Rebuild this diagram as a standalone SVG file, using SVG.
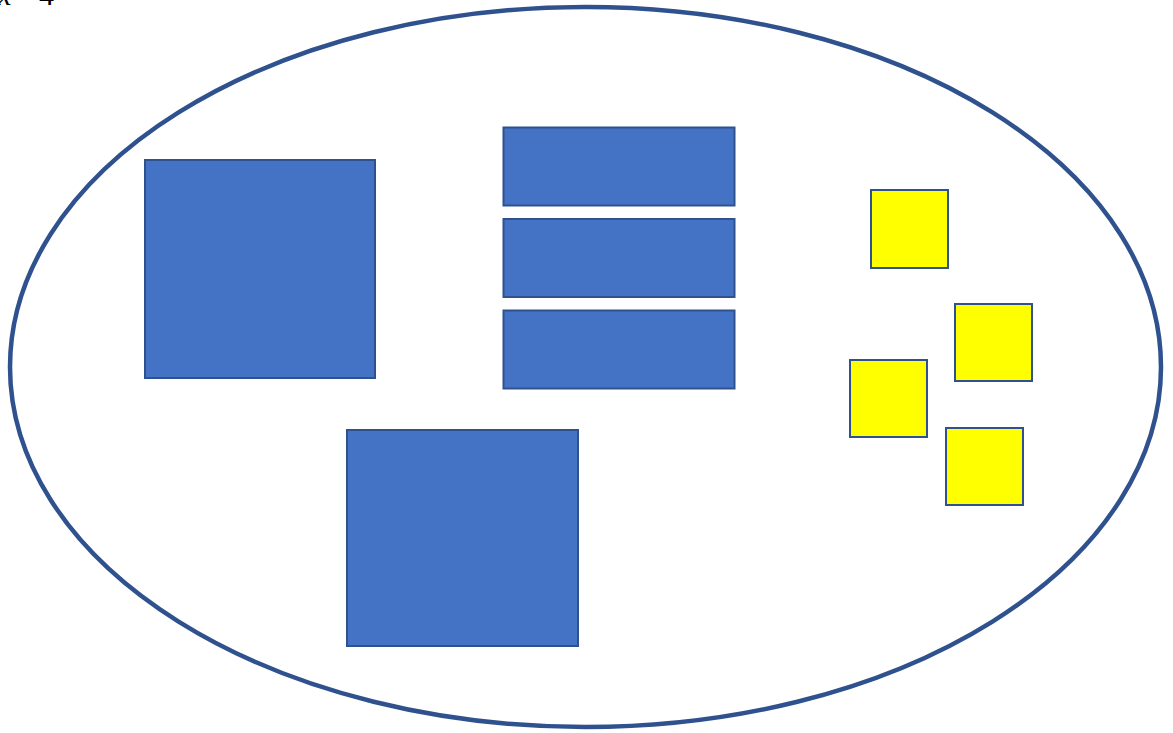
<svg xmlns="http://www.w3.org/2000/svg" width="1173" height="733" viewBox="0 0 1173 733">
<style>
.b{fill:#4472C4;stroke:#2F528F;stroke-width:2}
.y{fill:#FFFF00;stroke:#2F528F;stroke-width:2}
.t{font-family:"Liberation Serif",serif;font-size:30px;fill:#000}
</style>
<rect width="1173" height="733" fill="#fff"/>
<text class="t" x="-2" y="5" font-style="italic">x</text>
<text class="t" x="39" y="5">4</text>
<g id="outer"><ellipse cx="585.5" cy="367" rx="575.5" ry="360" fill="none" stroke="#2F528F" stroke-width="4.5"/></g>
<g id="box1"><rect class="b" x="145" y="160" width="230" height="218"/></g>
<g id="box2"><rect class="b" x="347" y="430" width="231" height="216"/></g>
<g id="bar1"><rect class="b" x="503.5" y="127.5" width="231" height="78"/></g>
<g id="bar2"><rect class="b" x="503.5" y="219" width="231" height="78"/></g>
<g id="bar3"><rect class="b" x="503.5" y="310.5" width="231" height="78"/></g>
<g id="y1"><rect class="y" x="871" y="190" width="77" height="78"/></g>
<g id="y2"><rect class="y" x="955" y="304" width="77" height="77"/></g>
<g id="y3"><rect class="y" x="850" y="360" width="77" height="77"/></g>
<g id="y4"><rect class="y" x="946" y="428" width="77" height="77"/></g>
<g id="connectors"></g>
</svg>
